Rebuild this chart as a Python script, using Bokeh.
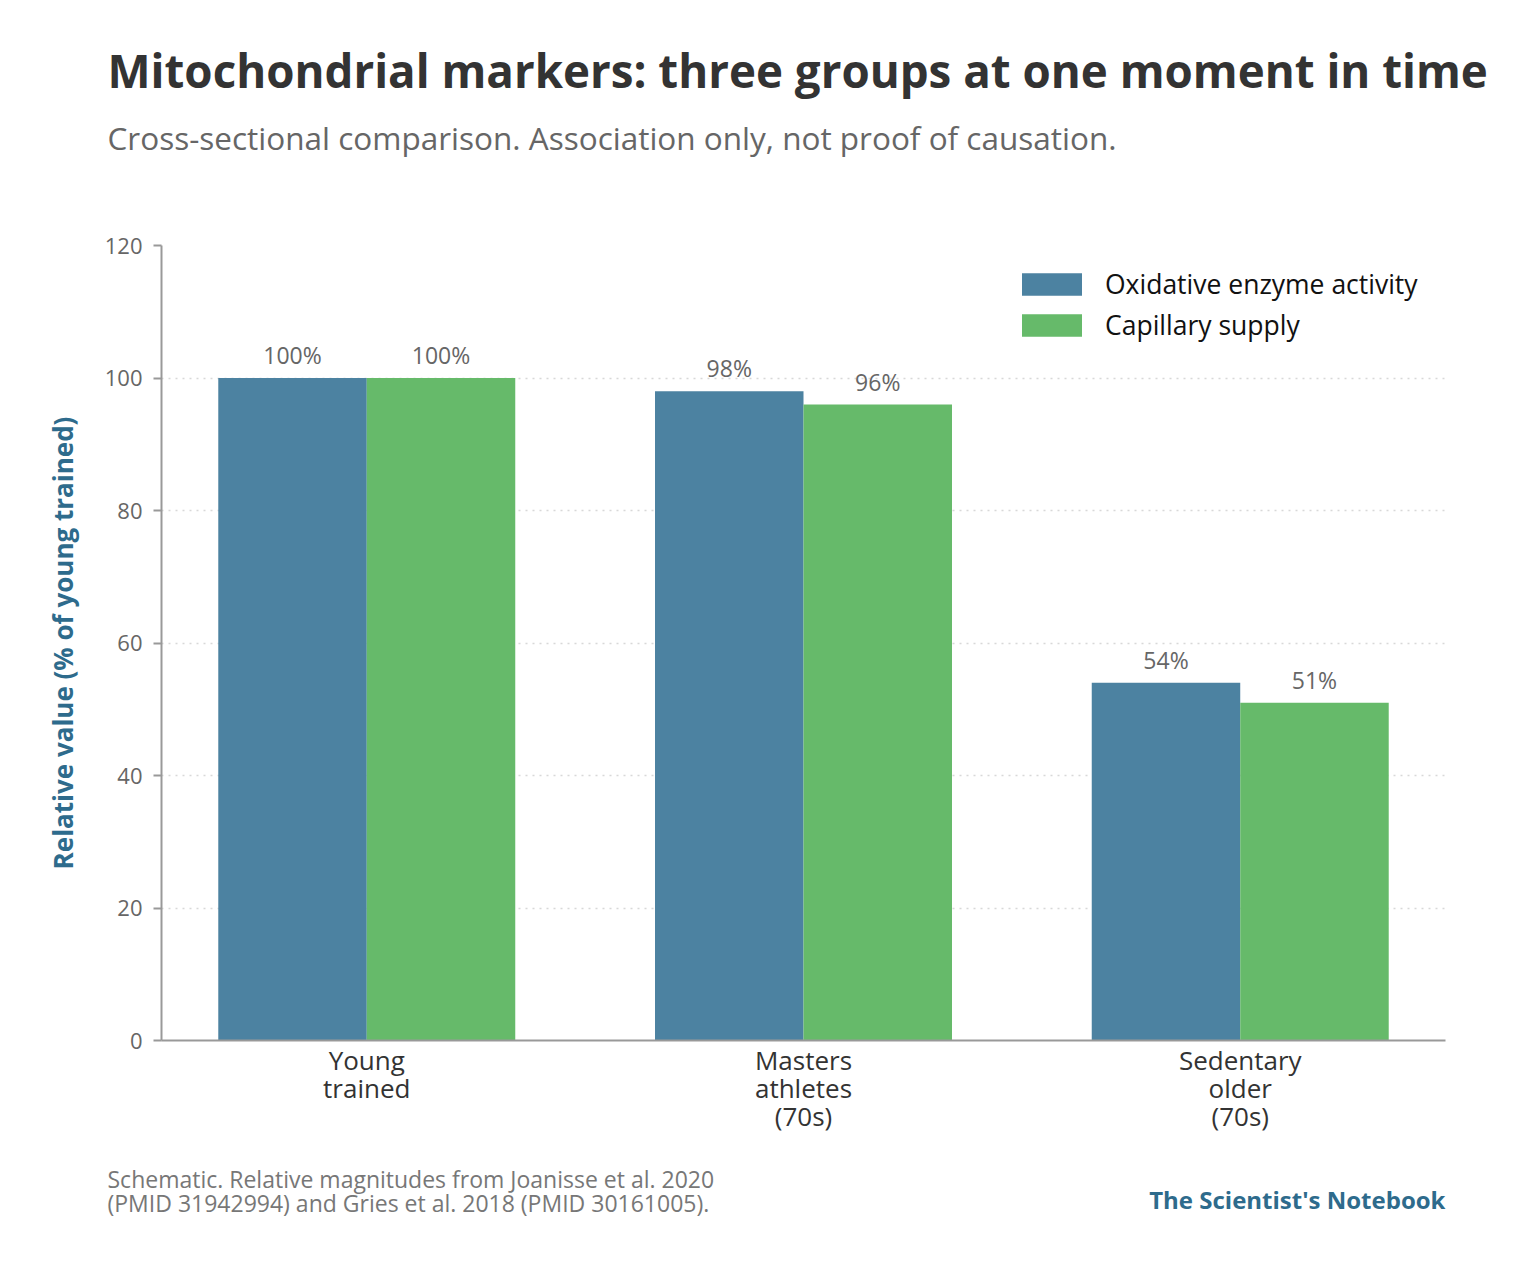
from bokeh.plotting import figure
from bokeh.models import (ColumnDataSource, Range1d, FixedTicker, LabelSet, Label,
                          Legend, LegendItem)
from bokeh.transform import dodge
from bokeh.core.properties import value
from bokeh.embed import file_html
from bokeh.resources import INLINE

# ---- data ----
groups = ["Young\ntrained", "Masters\nathletes\n(70s)", "Sedentary\nolder\n(70s)"]
oxidative = [100, 98, 54]
capillary = [100, 96, 51]
series_names = ["Oxidative enzyme activity", "Capillary supply"]
y_ticks = [0, 20, 40, 60, 80, 100, 120]

FONT = "Open Sans"
BLUE = "#4c82a1"
GREEN = "#66ba6a"
ACCENT = "#2e6b8c"
W = 1510

xpos = list(range(len(groups)))
src = ColumnDataSource(dict(
    x=xpos,
    ox=oxidative,
    cap=capillary,
    ox_lbl=[f"{v}%" for v in oxidative],
    cap_lbl=[f"{v}%" for v in capillary],
))


def text_panel(height):
    f = figure(width=W, height=height, output_backend="svg", toolbar_location=None,
               x_axis_type=None, y_axis_type=None, min_border=0,
               x_range=Range1d(0, 1), y_range=Range1d(0, 1))
    f.outline_line_color = None
    f.grid.visible = False
    f.background_fill_color = "white"
    f.border_fill_color = "white"
    return f


def add_text(f, txt, x, y, size, color, style="normal", align="left"):
    f.add_layout(Label(x=x, y=y, x_units="screen", y_units="screen", text=txt,
                       text_font=FONT, text_font_size=size, text_color=color,
                       text_font_style=style, text_align=align,
                       text_baseline="alphabetic"))


# ---- header ----
header = text_panel(200)
add_text(header, "Mitochondrial markers: three groups at one moment in time",
         107, 131, "45.7px", "#333333", "bold")
add_text(header, "Cross-sectional comparison. Association only, not proof of causation.",
         107, 63, "31.5px", "#666666")

# ---- main chart ----
p = figure(width=W, height=950, output_backend="svg", toolbar_location=None,
           x_range=Range1d(-0.47, 2.47), y_range=Range1d(0, 120),
           min_border_left=161, min_border_right=65, min_border_top=45,
           min_border_bottom=110)
p.outline_line_color = None
p.background_fill_color = "white"
p.border_fill_color = "white"

bw = 0.34
r1 = p.vbar(x=dodge("x", -bw / 2), top="ox", width=bw, source=src,
            fill_color=BLUE, line_color=None)
r2 = p.vbar(x=dodge("x", bw / 2), top="cap", width=bw, source=src,
            fill_color=GREEN, line_color=None)

for col, lbl, off in (("ox", "ox_lbl", -bw / 2), ("cap", "cap_lbl", bw / 2)):
    p.add_layout(LabelSet(x=dodge("x", off), y=col, text=lbl, source=src,
                          y_offset=7, text_align="center", text_baseline="bottom",
                          text_font=value(FONT), text_font_size=value("23px"),
                          text_color="#666666"))

p.xaxis.ticker = FixedTicker(ticks=xpos)
p.xaxis.major_label_overrides = {i: g for i, g in enumerate(groups)}
p.xaxis.major_tick_line_color = None
p.xaxis.minor_tick_line_color = None
p.xaxis.axis_line_color = "#999999"
p.xaxis.axis_line_width = 2
p.xaxis.major_label_text_font = FONT
p.xaxis.major_label_text_font_size = "26px"
p.xaxis.major_label_text_color = "#333333"
p.xaxis.major_label_text_line_height = 0.79
p.xaxis.major_label_standoff = -5

p.yaxis.ticker = FixedTicker(ticks=y_ticks)
p.yaxis.axis_line_color = "#999999"
p.yaxis.axis_line_width = 2
p.yaxis.major_tick_line_color = "#999999"
p.yaxis.major_tick_line_width = 2
p.yaxis.major_tick_out = 8
p.yaxis.major_tick_in = 0
p.yaxis.minor_tick_line_color = None
p.yaxis.major_label_text_font = FONT
p.yaxis.major_label_text_font_size = "22px"
p.yaxis.major_label_text_color = "#666666"
p.yaxis.major_label_standoff = 11
p.yaxis.axis_label = "Relative value (% of young trained)"
p.yaxis.axis_label_text_font = FONT
p.yaxis.axis_label_text_font_size = "26px"
p.yaxis.axis_label_text_font_style = "bold"
p.yaxis.axis_label_text_color = ACCENT
p.yaxis.axis_label_standoff = 21

p.xgrid.grid_line_color = None
p.ygrid.grid_line_color = "#d8d8d8"
p.ygrid.grid_line_dash = "2 5"
p.ygrid.grid_line_width = 1.5

legend = Legend(items=[LegendItem(label=series_names[0], renderers=[r1]),
                       LegendItem(label=series_names[1], renderers=[r2])],
                location=(853, 697), border_line_color=None,
                background_fill_alpha=0, glyph_width=75, glyph_height=28,
                label_standoff=16, spacing=5, padding=0, margin=0,
                label_text_font=FONT, label_text_font_size="26.5px",
                label_text_color="#111111")
p.add_layout(legend, "center")

# ---- footer ----
footer = text_panel(100)
add_text(footer, "Schematic. Relative magnitudes from Joanisse et al. 2020",
         107, 72, "23px", "#777777")
add_text(footer, "(PMID 31942994) and Gries et al. 2018 (PMID 30161005).",
         107, 48, "23px", "#777777")
add_text(footer, "The Scientist's Notebook", 1445, 51, "24px", ACCENT, "bold", "right")

# separate roots, stacked vertically, so each panel keeps its own full-width frame
open("out.html", "w").write(file_html([header, p, footer], INLINE))
